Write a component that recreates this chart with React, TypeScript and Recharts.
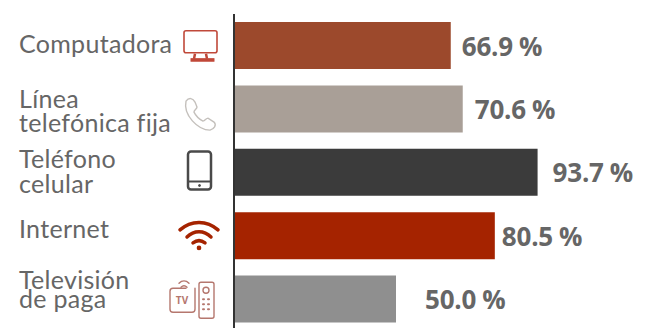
import { BarChart, Bar, Cell, XAxis, YAxis, LabelList } from "recharts";

const categories = [
  "Computadora",
  "Línea\ntelefónica fija",
  "Teléfono\ncelular",
  "Internet",
  "Televisión\nde paga",
];
const values = [66.9, 70.6, 93.7, 80.5, 50.0];

const BAR_COLORS = ["#9c492c", "#a99f97", "#3b3b3b", "#a52300", "#8f8f8f"];
const RED = "#c0493a";

// gap between bar end and its percentage, per row
const LABEL_GAPS = [11, 12, 15, 7, 29];
// baseline of each text line relative to the row centre
const LINE_OFFSETS = [[7], [-1, 23], [-5, 20], [2], [-10, 9]];

const chartData = categories.map((name, i) => ({ name, value: values[i] }));

function MonitorIcon() {
  return (
    <g fill="none" stroke={RED} strokeWidth={1.6}>
      <rect x={-17} y={-15} width={33} height={22} rx={2} />
      <path d="M-6 8 L-7 13 M5 8 L6 13" strokeWidth={2.5} />
      <rect x={-10} y={13} width={23} height={2.5} fill={RED} strokeWidth={1} />
    </g>
  );
}

function PhoneIcon() {
  return (
    <path
      d="M-14 -11 C-11 -15 -7 -14 -5 -10 L-3 -5 C-3 -3 -6 -2 -6 0 C-4 4 -1 7 3 9 C5 9 6 6 8 6 L14 10 C17 13 14 17 10 18 C-2 18 -17 3 -14 -11 Z"
      fill="none"
      stroke="#c4c0bc"
      strokeWidth={1.4}
    />
  );
}

function MobileIcon() {
  return (
    <g fill="none" stroke="#4a4a4a" strokeWidth={2.5}>
      <rect x={-11} y={-20} width={23} height={38} rx={3} />
      <path d="M-11 10 H12" strokeWidth={2} />
      <circle cx={0.5} cy={14} r={1} fill="#4a4a4a" strokeWidth={1} />
    </g>
  );
}

function WifiIcon() {
  return (
    <g fill="none" stroke="#a52300" strokeWidth={3.5} strokeLinecap="round">
      <path d="M-19 -5 C-8 -15 8 -15 19 -5" />
      <path d="M-12 2 C-5 -5 5 -5 12 2" />
      <path d="M-6 8 C-2 5 2 5 6 8" />
      <circle cx={0} cy={13} r={1.6} fill="#a52300" strokeWidth={1.5} />
    </g>
  );
}

function TvIcon() {
  return (
    <g fill="none" stroke="#b5776e" strokeWidth={1.4} strokeLinecap="round">
      <path d="M-8 -11 H-21 C-23 -11 -24 -10 -24 -8 V10 C-24 12 -23 13 -21 13 H-2 C0 13 1 12 1 10 V-11" />
      <path d="M-15 -16 C-12 -19 -8 -19 -5 -16 M-13 -12 C-11 -14 -9 -14 -7 -12" />
      <rect x={5} y={-17} width={15} height={36} rx={2} />
      <circle cx={12} cy={-9} r={3} />
      <path d="M9 0 h1 M14 0 h1 M9 5 h1 M14 5 h1 M9 10 h1 M14 10 h1" strokeWidth={2} />
      <text x={-12} y={5} textAnchor="middle" fontFamily="'Open Sans', sans-serif" fontSize={10} fontWeight={700} fill="#b5776e" stroke="none">
        TV
      </text>
    </g>
  );
}

// x is the icon centre, y the shift from the row centre
const ROW_ICONS = [
  { x: 201, y: 0, Icon: MonitorIcon },
  { x: 200, y: 3, Icon: PhoneIcon },
  { x: 199, y: -1, Icon: MobileIcon },
  { x: 199, y: -1, Icon: WifiIcon },
  { x: 194, y: 0, Icon: TvIcon },
];

function CategoryTick({ y, payload, index }: any) {
  const lines = String(payload.value).split("\n");
  const { x: iconX, y: iconY, Icon } = ROW_ICONS[index];
  return (
    <g>
      <text fontFamily="Lato, 'Noto Sans', sans-serif" fontSize={25} letterSpacing={0.3} fill="#666666">
        {lines.map((line: string, i: number) => (
          <tspan key={i} x={19} y={y + LINE_OFFSETS[index][i]}>
            {line}
          </tspan>
        ))}
      </text>
      <g transform={`translate(${iconX} ${y + iconY})`}>
        <Icon />
      </g>
    </g>
  );
}

function ValueLabel({ x, y, width, height, value, index }: any) {
  return (
    <text
      x={x + width + LABEL_GAPS[index]}
      y={y + height / 2 + 10}
      fontFamily="'Open Sans', sans-serif"
      fontWeight={700}
      fontSize={26}
      letterSpacing={-0.2}
      wordSpacing={-0.5}
      fill="#666666"
    >
      {`${value.toFixed(1)} %`}
    </text>
  );
}

export default function App() {
  return (
    <div style={{ position: "absolute", left: 0, top: 0, width: 646, height: 328, overflow: "hidden", background: "#fff" }}>
      <BarChart
        width={646}
        height={331}
        data={chartData}
        layout="vertical"
        barCategoryGap={8}
        margin={{ top: 14, right: 88, bottom: 0, left: 0 }}
      >
        <XAxis type="number" domain={[0, 100]} hide />
        <YAxis
          type="category"
          dataKey="name"
          width={234}
          interval={0}
          tickLine={false}
          axisLine={{ stroke: "#333333", strokeWidth: 2 }}
          tick={<CategoryTick />}
        />
        <Bar dataKey="value" isAnimationActive={false}>
          {chartData.map((_, i) => (
            <Cell key={i} fill={BAR_COLORS[i]} />
          ))}
          <LabelList dataKey="value" content={<ValueLabel />} />
        </Bar>
      </BarChart>
    </div>
  );
}
